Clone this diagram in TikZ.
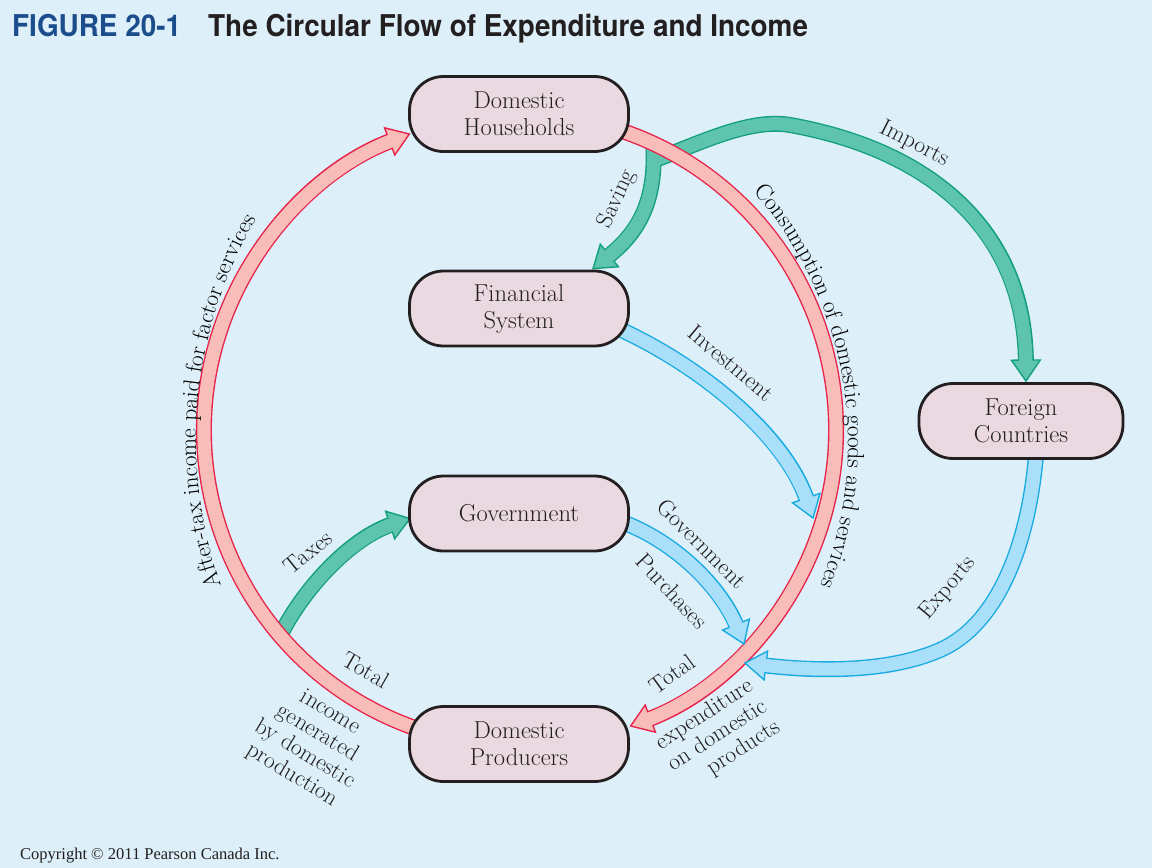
\documentclass[tikz,border=0pt]{standalone}
\usepackage{fontspec}
\newfontfamily\titlefont[FakeStretch=0.93]{TeX Gyre Heros}
\newfontfamily\copyfont{Liberation Serif}
\usetikzlibrary{decorations.markings,decorations.text,calc}
\definecolor{bgc}{HTML}{DDF0FA}
\definecolor{boxc}{HTML}{EBD9E2}
\definecolor{ink}{HTML}{231F20}
\definecolor{titleblue}{HTML}{1B4C8C}
\definecolor{redl}{HTML}{E8234A}
\definecolor{redf}{HTML}{F8BDB8}
\definecolor{greenl}{HTML}{14A07C}
\definecolor{greenf}{HTML}{5EC4AE}
\definecolor{bluel}{HTML}{1AAAE2}
\definecolor{bluef}{HTML}{A9DFF8}
\pgfdeclarelayer{bgl}
\pgfdeclarelayer{flows}
\pgfsetlayers{bgl,flows,main}
\newcommand{\lblfont}{\fontsize{23.5}{24.5}\selectfont}
\newcommand{\bandouter}[2]{\draw[line width=16pt, draw=#1, shorten >=19pt] #2;}
\newcommand{\bandhead}[3]{\path[decorate, decoration={markings, mark=at position -0.5pt with {\draw[draw=#1, fill=#2, line width=1.4pt, line join=miter] (0.5,0) -- (-20.5,14.5) -- (-20.5,-14.5) -- cycle;}}] #3;}
\newcommand{\bandinner}[2]{\draw[line width=13.2pt, draw=#1, shorten >=17pt] #2;}
\newcommand{\bandarrow}[3]{\bandouter{#1}{#3}\bandhead{#1}{#2}{#3}\bandinner{#2}{#3}}
\tikzset{
  box/.style={draw=ink, line width=2.8pt, fill=boxc, rounded corners=34pt,
    minimum width=219pt, minimum height=75pt, align=center, text=ink,
    font=\fontsize{24.5}{27}\selectfont, inner sep=0pt},
  lbl/.style={font=\lblfont, inner sep=0pt, text=ink}
}
\begin{document}
\begin{tikzpicture}[x=1pt,y=-1pt]
\begin{pgfonlayer}{bgl}
\fill[bgc] (0,0) rectangle (1152,868);
\end{pgfonlayer}
\useasboundingbox (0,0) rectangle (1152,868);

% boxes
\node[box] (hh)  at (519,114)   {Domestic\\Households};
\node[box] (fin) at (519,308.5) {Financial\\System};
\node[box] (gov) at (519,513.5) {Government};
\node[box] (prod) at (519,744)  {Domestic\\Producers};
\node[box, minimum width=204pt] (for) at (1021,421) {Foreign\\Countries};

% helper coordinates
\coordinate (C) at (520,430);
\path (C) ++(109:316) coordinate (aL);
\path (C) ++(-72:316) coordinate (aR);
\coordinate (sv) at (653,140);
\coordinate (ims) at (655,160);
\coordinate (tx) at (281,634);
\coordinate (iv) at (615,327);
\coordinate (ivend) at (813,518);
\coordinate (gp) at (625,523);
\coordinate (gpend) at (744,644);
\coordinate (ex) at (1036,455);
\coordinate (exend) at (745,663);

\begin{pgfonlayer}{flows}
% green flows
\bandouter{greenl}{(sv) .. controls (658,205) and (635,235) .. ($(fin.north)+(74,-1)$)}
\bandouter{greenl}{(ims) .. controls (700,143) and (750,118) .. (790,125) .. controls (930,150) and (1025,230) .. ($(for.north)+(5,-1)$)}
\bandhead{greenl}{greenf}{(sv) .. controls (658,205) and (635,235) .. ($(fin.north)+(74,-1)$)}
\bandhead{greenl}{greenf}{(ims) .. controls (700,143) and (750,118) .. (790,125) .. controls (930,150) and (1025,230) .. ($(for.north)+(5,-1)$)}
\bandinner{greenf}{(sv) .. controls (658,205) and (635,235) .. ($(fin.north)+(74,-1)$)}
\bandinner{greenf}{(ims) .. controls (700,143) and (750,118) .. (790,125) .. controls (930,150) and (1025,230) .. ($(for.north)+(5,-1)$)}
\bandarrow{greenl}{greenf}{(tx) .. controls (303,590) and (350,538) .. ($(gov.west)+(2,5)$)}
% red flows
\bandarrow{redl}{redf}{(aL) arc[start angle=109, end angle=249.5, radius=316]}
\bandarrow{redl}{redf}{(aR) arc[start angle=-72, end angle=69.5, radius=316]}
% blue flows
\bandarrow{bluel}{bluef}{(iv) .. controls (700,365) and (785,435) .. (ivend)}
\bandarrow{bluel}{bluef}{(gp) .. controls (680,545) and (722,590) .. (gpend)}
\bandarrow{bluel}{bluef}{(ex) .. controls (1028,550) and (995,626) .. (940,650) .. controls (890,672) and (820,672) .. (exend)}
\end{pgfonlayer}

% curved labels
\coordinate (CL) at (629,440);
\coordinate (CR) at (465,443);
\path (CL) ++(150:433) coordinate (tL);
\path (CR) ++(-45:383) coordinate (tR);
\path[decorate, decoration={text along path, text align=center,
  text={|\lblfont|After-tax income paid for factor services}}]
  (tL) arc[start angle=150, end angle=221, radius=433];
\path[decorate, decoration={text along path, text align=center,
  text={|\lblfont|Consumption of domestic goods and services}}]
  (tR) arc[start angle=-45, end angle=25.6, radius=383];

% straight labels
\node[lbl, rotate=-27] (limp) at (914,144) {Imports};
\node[lbl, rotate=65] (lsav) at (617,199) {Saving};
\node[lbl, rotate=39] (ltax) at (308,552) {Taxes};
\node[lbl, rotate=-40] (linv) at (731,363) {Investment};
\node[lbl, rotate=-45] (lgov) at (702,544) {Government};
\node[lbl, rotate=-47] (lpur) at (672,591) {Purchases};
\node[lbl, rotate=50] (lexp) at (948,588) {Exports};
\node[lbl, rotate=36] (ltotr) at (672,674) {Total};
\node[lbl, rotate=-30] (ltotl) at (366,670) {Total};
\node[lbl, rotate=33, anchor=east, align=right] (lexpd) at (765,705) {expenditure\\on domestic\\products};
\node[lbl, rotate=-31, align=center] (linc) at (311,744) {income\\generated\\by domestic\\production};

% title and copyright
\node[anchor=base west, inner sep=0pt, text=titleblue, font=\titlefont\bfseries\fontsize{30}{36}\selectfont] (fig) at (12,36) {FIGURE 20-1};
\node[anchor=base west, inner sep=0pt, text=ink, font=\titlefont\bfseries\fontsize{30}{36}\selectfont] (ttl) at (208,36) {The Circular Flow of Expenditure and Income};
\node[anchor=base west, inner sep=0pt, text=ink, font=\copyfont\fontsize{16.5}{20}\selectfont] (copy) at (20,859) {Copyright \textcopyright{} 2011 Pearson Canada Inc.};
\end{tikzpicture}
\end{document}
